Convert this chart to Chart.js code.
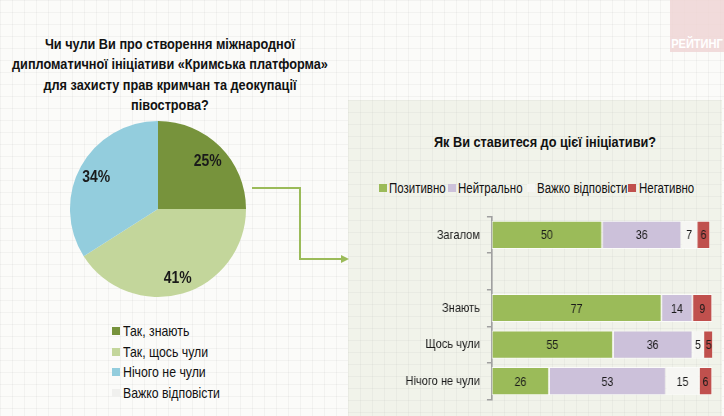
<!DOCTYPE html>
<html>
<head>
<meta charset="utf-8">
<script src="https://cdn.jsdelivr.net/npm/chart.js@4/dist/chart.umd.min.js"></script>
<style>
  html, body { margin:0; padding:0; }
  body {
    width:724px; height:416px; position:relative; overflow:hidden;
    background-color:#fbfbf9;
    background-image:
      linear-gradient(rgba(0,0,0,0.035) 1px, transparent 1px),
      linear-gradient(90deg, rgba(0,0,0,0.035) 1px, transparent 1px);
    background-size: 12px 12px;
    font-family: 'Liberation Sans', Arial, sans-serif;
    color:#111;
  }
  .abs { position:absolute; }
  .narrow { transform: scaleX(0.82); white-space:nowrap; }
  #title1 { left:-40px; top:34px; width:420px; text-align:center; font-weight:bold; font-size:15.5px; line-height:20.4px; transform-origin: 50% 0; }
  #panel { left:348px; top:100px; width:374px; height:316px; background:#f1f3ea;
    background-image:
      linear-gradient(rgba(0,0,0,0.03) 1px, transparent 1px),
      linear-gradient(90deg, rgba(0,0,0,0.03) 1px, transparent 1px);
    background-size: 12px 12px; }
  #title2 { left:345px; top:132px; width:400px; text-align:center; font-weight:bold; font-size:15.5px; line-height:20px; transform-origin: 50% 0; }
  .legt { font-size:15px; line-height:20px; transform-origin: 0 50%; }
  .sw { width:8px; height:8px; }
  .blegt { font-size:14px; line-height:16px; transform-origin: 0 50%; }
  #logo { left:670px; top:0; width:54px; height:52px; background:#efd3d3; opacity:0.8; }
  #logoText { left:660px; top:36px; width:74px; text-align:center; color:#fff; font-weight:bold; font-size:13.5px; transform-origin: 50% 0; }
  #barWrap { left:350px; top:200px; width:454px; height:216px; transform: scaleX(0.8194); transform-origin: 0 0; }
</style>
</head>
<body>
<div id="logo" class="abs"></div>
<div id="logoText" class="abs narrow">РЕЙТИНГ</div>
<div id="panel" class="abs"></div>
<div id="title1" class="abs narrow">Чи чули Ви про створення міжнародної<br>дипломатичної ініціативи «Кримська платформа»<br>для захисту прав кримчан та деокупації<br>півострова?</div>
<div id="title2" class="abs narrow">Як Ви ставитеся до цієї ініціативи?</div>
<svg class="abs" style="left:0;top:0" width="724" height="416">
  <polyline points="252,188 300,188 300,259 342,259" fill="none" stroke="#9bbb59" stroke-width="2"/>
  <polygon points="349,259 341,255 341,263" fill="#9bbb59"/>
</svg>
<div class="abs" style="left:68px; top:119px; width:180px; height:180px;"><canvas id="pie" width="180" height="180"></canvas></div>
<div id="barWrap" class="abs"><canvas id="bar" width="454" height="216"></canvas></div>
<script>
const pieLabels = ['Так, знають', 'Так, щось чули', 'Нічого не чули', 'Важко відповісти'];
const pieValues = [25, 41, 34, 0];
const pieColors = ['#77933c', '#c3d69b', '#93cddd', '#f0f0ee'];

const barCategories = ['Загалом', '', 'Знають', 'Щось чули', 'Нічого не чули'];
const barSeries = ['Позитивно', 'Нейтрально', 'Важко відповісти', 'Негативно'];
const positive = [50, null, 77, 55, 26];
const neutral = [36, null, 14, 36, 53];
const hardToSay = [7, null, 0, 5, 15];
const negative = [6, null, 9, 5, 6];
const barColors = ['#9bbb59', '#ccc1da', '#f6f6f3', '#c0504d'];

const FONT = "'Liberation Sans', Arial, sans-serif";
Chart.defaults.font.family = FONT;
Chart.defaults.animation = false;

function addAbs(cls, left, top, html, style) {
  const d = document.createElement('div');
  d.className = 'abs ' + cls;
  d.style.left = left + 'px'; d.style.top = top + 'px';
  if (style) Object.assign(d.style, style);
  d.innerHTML = html;
  document.body.appendChild(d);
  return d;
}

// pie legend (HTML)
const pieLegY = [331, 351.5, 372, 392.5];
pieLabels.forEach((l, i) => {
  addAbs('sw', 112, pieLegY[i] - 4, '', { background: pieColors[i] });
  addAbs('legt narrow', 123, pieLegY[i] - 10, l);
});
// bar legend (HTML)
const blSwX = [379, 448, 527, 628];
const blTxX = [389, 458, 537, 639];
barSeries.forEach((l, i) => {
  addAbs('sw', blSwX[i], 184, '', { background: barColors[i] });
  addAbs('blegt narrow', blTxX[i], 180, l);
});

const pieLabelPlugin = {
  id: 'pieLabels',
  afterDatasetsDraw(chart) {
    const ctx = chart.ctx;
    const meta = chart.getDatasetMeta(0);
    meta.data.forEach((arc, i) => {
      const v = chart.data.datasets[0].data[i];
      if (!v) return;
      const mid = (arc.startAngle + arc.endAngle) / 2;
      const r = arc.outerRadius * 0.8;
      ctx.save();
      ctx.translate(arc.x + Math.cos(mid) * r, arc.y + Math.sin(mid) * r + 2);
      ctx.scale(0.82, 1);
      ctx.font = 'bold 17px ' + FONT;
      ctx.fillStyle = '#1a1a1a';
      ctx.textAlign = 'center';
      ctx.textBaseline = 'middle';
      ctx.fillText(v + '%', 0, 0);
      ctx.restore();
    });
  }
};

new Chart(document.getElementById('pie'), {
  type: 'pie',
  data: { labels: pieLabels, datasets: [{ data: pieValues, backgroundColor: pieColors, borderWidth: 0 }] },
  options: {
    responsive: false, radius: 88,
    plugins: { legend: { display: false }, tooltip: { enabled: false } },
    layout: { padding: 0 }
  },
  plugins: [pieLabelPlugin]
});

const barLabelPlugin = {
  id: 'barLabels',
  afterDatasetsDraw(chart) {
    const ctx = chart.ctx;
    ctx.save();
    ctx.font = '13px ' + FONT;
    ctx.fillStyle = '#1a1a1a';
    ctx.textAlign = 'center';
    ctx.textBaseline = 'middle';
    chart.data.datasets.forEach((ds, di) => {
      const meta = chart.getDatasetMeta(di);
      meta.data.forEach((el, i) => {
        const v = ds.data[i];
        if (!v) return;
        ctx.fillText(String(v), (el.x + el.base) / 2, el.y + 1);
      });
    });
    ctx.restore();
  }
};

const seriesData = [positive, neutral, hardToSay, negative];
new Chart(document.getElementById('bar'), {
  type: 'bar',
  data: {
    labels: barCategories,
    datasets: barSeries.map((s, i) => ({
      label: s, data: seriesData[i], backgroundColor: barColors[i],
      borderColor: 'rgba(255,255,255,0.7)', borderWidth: 1, borderSkipped: false,
      barPercentage: 0.77, categoryPercentage: 1
    }))
  },
  options: {
    responsive: false, indexAxis: 'y',
    layout: { padding: { left: 0, right: 12, top: 14, bottom: 7 } },
    plugins: { legend: { display: false }, tooltip: { enabled: false } },
    scales: {
      x: { stacked: true, min: 0, max: 100, display: false },
      y: {
        stacked: true,
        afterFit(scale) { scale.width = 173; },
        grid: { drawOnChartArea: false, drawTicks: true, tickLength: 6, color: '#a0a0a0', lineWidth: 1.5 },
        border: { display: true, color: '#a0a0a0', width: 2 },
        ticks: { color: '#1a1a1a', font: { size: 13.5 }, padding: 8.5 }
      }
    }
  },
  plugins: [barLabelPlugin]
});
</script>
</body>
</html>
